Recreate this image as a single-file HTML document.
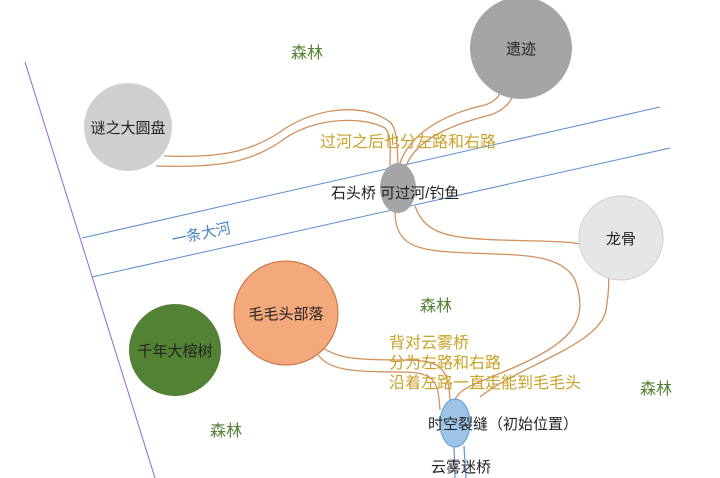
<!DOCTYPE html>
<html><head><meta charset="utf-8"><style>
body{margin:0;background:#fff;}
svg{display:block;}
text{font-family:"Liberation Sans","Noto Sans CJK SC",sans-serif;}
</style></head><body>
<svg width="720" height="478" viewBox="0 0 720 478" xmlns="http://www.w3.org/2000/svg">
<line x1="25" y1="62" x2="155" y2="478" stroke="#9966cc" stroke-width="1"/>
<line x1="82" y1="238" x2="660" y2="107" stroke="#5b8ed0" stroke-width="1"/>
<line x1="92" y1="277" x2="670" y2="148" stroke="#5b8ed0" stroke-width="1"/>
<g fill="none" stroke="#d0915e" stroke-width="1.3">
<path d="M164,156 C220,158 250,152 280,132 C310,110 360,100 390,122 C398,130 397,150 398,164"/>
<path d="M156,166 C220,168 250,162 280,142 C310,118 360,115 385,128 C392,135 390,150 390,165"/>
<path d="M400,163 C410,135 440,115 485,105 C500,100 500,92 502,86"/>
<path d="M406,166 C416,140 450,125 490,115 C510,108 514,96 514,88"/>
<path d="M395,212 C395,240 410,250 450,252 C510,256 560,250 575,280 C590,320 570,340 530,360 C490,380 460,385 455,400"/>
<path d="M415,206 C425,235 450,238 500,240 C560,242 580,240 595,250 C612,265 610,285 606,310 C600,345 520,365 480,397"/>
<path d="M322,347 C335,357 350,360 400,360 C440,360 448,365 450,400"/>
<path d="M318,355 C330,370 350,372 400,372 C435,372 438,380 440,410"/>
</g>
<g stroke="#6b9bd5" stroke-width="1.3"><line x1="454" y1="446" x2="455" y2="478"/><line x1="464" y1="446" x2="466" y2="478"/></g>
<circle cx="521" cy="48" r="51" fill="#a5a5a5"/>
<circle cx="128" cy="127" r="44" fill="#cfcfcf"/>
<circle cx="621" cy="238" r="42" fill="#e6e6e6" stroke="#cfcfcf"/>
<circle cx="286" cy="313" r="52" fill="#f4a97c" stroke="#c86a3a" stroke-width="1"/>
<circle cx="175" cy="350" r="46" fill="#548235"/>
<ellipse cx="398" cy="188" rx="18" ry="25" fill="#a5a5a5"/>
<ellipse cx="455" cy="423" rx="15" ry="24" fill="#9dc3e6" stroke="#5b9bd5"/>
<g font-size="15" fill="#222">
<text x="521" y="54" text-anchor="middle">遗迹</text>
<text x="128" y="133" text-anchor="middle">谜之大圆盘</text>
<text x="621" y="244" text-anchor="middle">龙骨</text>
<text x="286" y="319" text-anchor="middle">毛毛头部落</text>
<text x="175" y="356" text-anchor="middle">千年大榕树</text>
<text x="331" y="198">石头桥 可过河/钓鱼</text>
<text x="428" y="429">时空裂缝（初始位置）</text>
<text x="431" y="472">云雾迷桥</text>
</g>
<g font-size="16" fill="#538135">
<text x="291" y="58">森林</text>
<text x="420" y="311">森林</text>
<text x="210" y="436">森林</text>
<text x="640" y="394">森林</text>
</g>
<text x="173" y="245" font-size="15" fill="#4a80c0" transform="rotate(-12 173 245)">一条大河</text>
<g font-size="16" fill="#c9a227">
<text x="320" y="147">过河之后也分左路和右路</text>
<text x="389" y="348">背对云雾桥</text>
<text x="389" y="368">分为左路和右路</text>
<text x="389" y="388">沿着左路一直走能到毛毛头</text>
</g>
</svg>
</body></html>
